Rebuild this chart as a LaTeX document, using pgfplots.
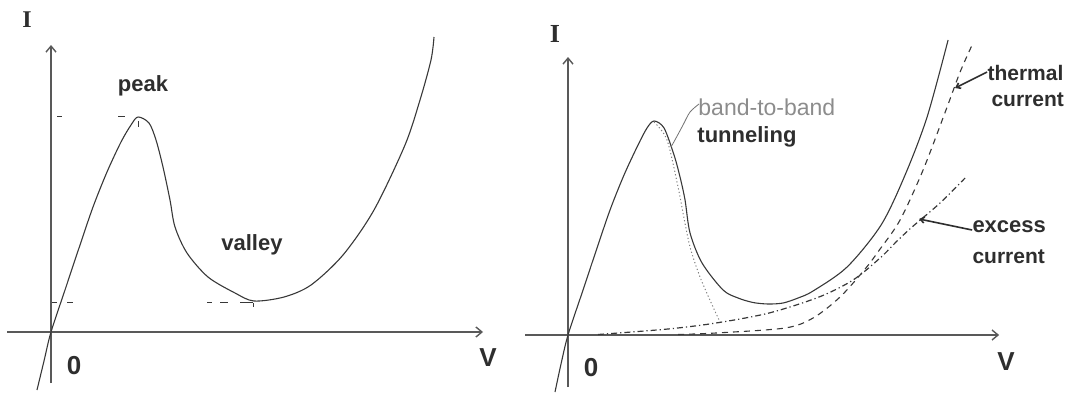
\documentclass[border=0pt]{standalone}
\usepackage{fontspec}
\setmainfont{Liberation Sans}
\newfontfamily\serifI{Liberation Serif}
\usepackage{pgfplots}
\pgfplotsset{compat=1.18}
\usetikzlibrary{arrows.meta}
\definecolor{curve}{gray}{0.22}
\definecolor{axisc}{gray}{0.35}
\definecolor{txt}{gray}{0.18}
\pgfplotsset{tdstyle/.style={scale only axis, axis lines=middle, ticks=none, clip=false,
  axis line style={axisc, line width=0.7pt, -{Straight Barb[length=3pt,width=5pt]}}}}
\begin{document}
\begin{tikzpicture}
\useasboundingbox (0,0) rectangle (538pt,-198pt);
% ---------------- left panel ----------------
\begin{axis}[tdstyle, at={(3.5pt,-191.5pt)}, anchor=south west,
  width=238pt, height=169pt, xmin=-44, xmax=432, ymin=-51, ymax=287]
\addplot[curve, line width=0.55pt, smooth] coordinates {
(-14,-58) (-7,-29) (0,0) (14,42) (28,84) (42,125) (56,160) (70,190) (80,207) (87,215)
(98,209) (105,192) (112,165) (119,132) (124,105) (136,79) (157,55) (184,39) (203,31)
(233,35) (260,47) (292,77) (323,122) (354,187) (369,232) (380,272) (383,295)};
% peak / valley markers
\addplot[curve, line width=0.5pt] coordinates {(6,216) (11,216)};
\addplot[curve, line width=0.5pt] coordinates {(67,216) (74,216)};
\addplot[curve, line width=0.5pt] coordinates {(87,211) (87,205)};
\addplot[curve, line width=0.5pt] coordinates {(1,30) (6,30)};
\addplot[curve, line width=0.5pt] coordinates {(16,30) (22,30)};
\addplot[curve, line width=0.5pt] coordinates {(156,30) (161,30)};
\addplot[curve, line width=0.5pt] coordinates {(169,30) (177,30)};
\addplot[curve, line width=0.5pt] coordinates {(189,30) (202,30)};
\addplot[curve, line width=0.5pt] coordinates {(202,29) (202,25)};
\node[text=txt, font=\serifI\bfseries\fontsize{12}{14}\selectfont] at (axis cs:-24,312) {I};
\node[text=txt, font=\bfseries\fontsize{11}{13}\selectfont] at (axis cs:92,246) {peak};
\node[text=txt, font=\bfseries\fontsize{11}{13}\selectfont] at (axis cs:201,87) {valley};
\node[text=txt, font=\bfseries\fontsize{13}{15}\selectfont] at (axis cs:23,-34) {0};
\node[text=txt, font=\bfseries\fontsize{13}{15}\selectfont] at (axis cs:437,-26) {V};
\end{axis}
% ---------------- right panel ----------------
\begin{axis}[tdstyle, at={(262.5pt,-193.5pt)}, anchor=south west,
  width=237pt, height=165pt, xmin=-43, xmax=431, ymin=-52, ymax=278]
\addplot[curve, line width=0.55pt, smooth] coordinates {
(-13,-57) (-7,-29) (0,0) (14,42) (28,84) (42,125) (56,160) (70,190) (79,207) (86,214)
(96,207) (106,180) (112,158) (117,135) (122,102) (134,72) (155,45) (170,37) (185,32.5)
(200,31) (215,32) (230,37) (245,44) (279,68) (313,110) (337,160) (359,218) (380,295)};
% thermal current (dashed)
\addplot[curve, line width=0.55pt, smooth, dash pattern=on 3pt off 2.5pt] coordinates {
(110,0.5) (148,2) (217,7) (245,17) (272,38) (297,66) (312,86) (332,115) (355,165)
(379,228) (392,263) (404,290)};
% excess current (dash-dot)
\addplot[curve, line width=0.6pt, smooth, dash pattern=on 3pt off 1.5pt on 0.6pt off 1.5pt] coordinates {
(30,0.5) (100,6) (148,12) (201,22) (251,38) (285,55) (312,77) (329,94) (344,108)
(372,132) (397,157)};
% band-to-band tunneling (dotted)
\addplot[black!50, line width=0.5pt, smooth, dash pattern=on 0.6pt off 1.2pt] coordinates {
(86,213) (99,195) (110,148) (115,122) (122,88) (132,58) (145,28) (152,13)};
% annotations
\draw[black!55, line width=0.4pt] plot[smooth] coordinates {(axis cs:131,231) (axis cs:122,223) (axis cs:115,210) (axis cs:108,197) (axis cs:103,188)};
\draw[txt, line width=0.8pt, -{Straight Barb[length=2pt,width=3pt]}] (axis cs:419,263) -- (axis cs:387,247);
\draw[txt, line width=0.8pt, -{Straight Barb[length=2pt,width=3pt]}] (axis cs:404,105) -- (axis cs:351,116);
\node[text=txt, font=\serifI\bfseries\fontsize{13}{15}\selectfont] at (axis cs:-13,301) {I};
\node[text=txt, font=\bfseries\fontsize{13}{15}\selectfont] at (axis cs:23,-33) {0};
\node[text=txt, font=\bfseries\fontsize{13}{15}\selectfont] at (axis cs:438,-27) {V};
\node[text=black!45, font=\fontsize{11.5}{13}\selectfont, anchor=west, inner sep=0pt] at (axis cs:130,228) {band-to-band};
\node[text=txt, font=\bfseries\fontsize{11}{13}\selectfont, anchor=west, inner sep=0pt] at (axis cs:129,198) {tunneling};
\node[text=txt, font=\bfseries\fontsize{10.5}{12}\selectfont, anchor=west, inner sep=0pt] at (axis cs:419,262) {thermal};
\node[text=txt, font=\bfseries\fontsize{10.5}{12}\selectfont, anchor=west, inner sep=0pt] at (axis cs:423,235) {current};
\node[text=txt, font=\bfseries\fontsize{11}{13}\selectfont, anchor=west, inner sep=0pt] at (axis cs:404,108) {excess};
\node[text=txt, font=\bfseries\fontsize{10.5}{12}\selectfont, anchor=west, inner sep=0pt] at (axis cs:404,78) {current};
\end{axis}
\end{tikzpicture}
\end{document}
